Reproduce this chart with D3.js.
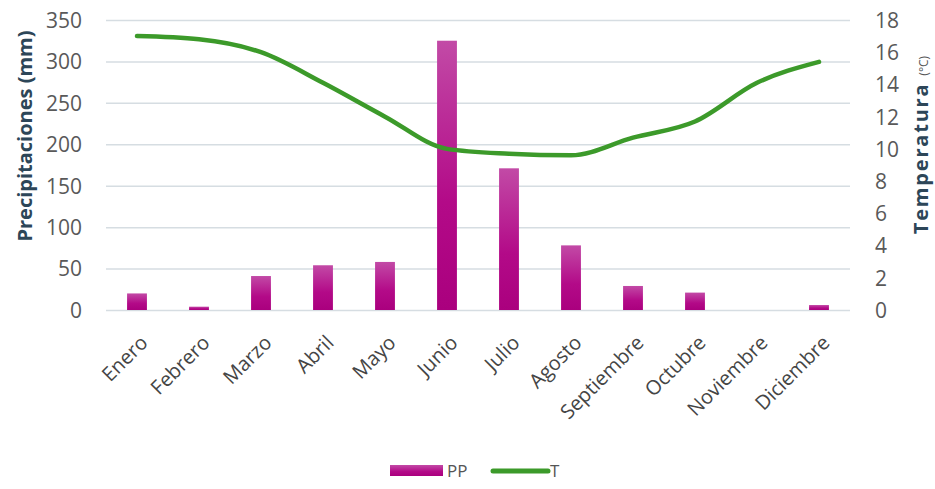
<!DOCTYPE html>
<html lang="es">
<head>
<meta charset="UTF-8">
<title>Climograma</title>
<style>
  body { margin: 0; background: #fff; }
  text { font-family: "Open Sans", "Liberation Sans", sans-serif; }
</style>
</head>
<body>
<svg id="chart" width="935" height="489"></svg>
<script src="https://cdnjs.cloudflare.com/ajax/libs/d3/7.8.5/d3.min.js"></script>
<script>
// data
const months = ['Enero','Febrero','Marzo','Abril','Mayo','Junio','Julio','Agosto','Septiembre','Octubre','Noviembre','Diciembre'];
const precip = [20, 4, 41, 54, 58, 325, 171, 78, 29, 21, 0, 6];
const temp = [17.0, 16.8, 16.0, 14.1, 12.0, 10.0, 9.7, 9.6, 10.7, 11.7, 14.1, 15.4];
const ppTicks = [0, 50, 100, 150, 200, 250, 300, 350];
const tTicks = [0, 2, 4, 6, 8, 10, 12, 14, 16, 18];

const svg = d3.select('#chart');
const plotL = 106, plotR = 850, plotT = 20, plotB = 310;

const x = d3.scaleBand().domain(months).range([plotL, plotR]).paddingInner(0.68).paddingOuter(0.34);
const yPP = d3.scaleLinear().domain([0, 350]).range([plotB, plotT]);
const yT = d3.scaleLinear().domain([0, 18]).range([plotB, plotT]);

// gradient for bars
const grad = svg.append('defs').append('linearGradient')
    .attr('id', 'barGrad').attr('x1', 0).attr('y1', 0).attr('x2', 0).attr('y2', 1);
grad.append('stop').attr('offset', '0%').attr('stop-color', '#c24aa6');
grad.append('stop').attr('offset', '60%').attr('stop-color', '#b30a88');
grad.append('stop').attr('offset', '100%').attr('stop-color', '#aa007e');

// gridlines
svg.append('g')
  .attr('transform', `translate(${plotL},0)`)
  .call(d3.axisLeft(yPP).tickValues(ppTicks).tickSize(-(plotR - plotL)).tickFormat(''))
  .call(g => g.select('.domain').remove())
  .call(g => g.selectAll('line').attr('stroke', '#d6dde2').attr('stroke-width', 1.5));

// left axis labels
svg.append('g')
  .attr('transform', `translate(${plotL - 24},0)`)
  .call(d3.axisLeft(yPP).tickValues(ppTicks).tickSize(0).tickPadding(0))
  .call(g => g.select('.domain').remove())
  .call(g => g.selectAll('text').attr('fill', '#595959').style('font-size', '21px').attr('dy', '0.35em'));

// right axis labels
svg.append('g')
  .attr('transform', `translate(${plotR + 25},0)`)
  .call(d3.axisRight(yT).tickValues(tTicks).tickSize(0).tickPadding(0))
  .call(g => g.select('.domain').remove())
  .call(g => g.selectAll('text').attr('fill', '#595959').style('font-size', '21px').attr('dy', '0.35em'));

// x axis labels
svg.append('g')
  .attr('transform', `translate(0,${plotB})`)
  .call(d3.axisBottom(x).tickSize(0).tickPadding(0))
  .call(g => g.select('.domain').remove())
  .call(g => g.selectAll('text')
      .attr('fill', '#454545')
      .style('font-size', '20px')
      .attr('text-anchor', 'end')
      .attr('dy', 0)
      .attr('transform', 'translate(12,34) rotate(-45)'));

// bars
svg.append('g').selectAll('rect')
  .data(precip)
  .join('rect')
    .attr('x', (d, i) => x(months[i]))
    .attr('width', x.bandwidth())
    .attr('y', d => yPP(d))
    .attr('height', d => plotB - yPP(d))
    .attr('fill', 'url(#barGrad)');

// temperature line
const line = d3.line()
  .x((d, i) => x(months[i]) + x.bandwidth() / 2)
  .y(d => yT(d))
  .curve(d3.curveMonotoneX);

svg.append('path')
  .datum(temp)
  .attr('d', line)
  .attr('fill', 'none')
  .attr('stroke', '#3c9a2a')
  .attr('stroke-width', 4.5)
  .attr('stroke-linecap', 'round')
  .attr('stroke-linejoin', 'round');

// axis titles
svg.append('text')
  .attr('transform', 'translate(32,136) rotate(-90)')
  .attr('text-anchor', 'middle')
  .attr('fill', '#2d4658')
  .style('font-size', '20px')
  .style('font-weight', 'bold')
  .text('Precipitaciones (mm)');

const tTitle = svg.append('text')
  .attr('transform', 'translate(928,145) rotate(-90)')
  .attr('text-anchor', 'middle')
  .attr('fill', '#2d4658')
  .style('font-weight', 'bold');
tTitle.append('tspan').style('font-size', '20px').style('letter-spacing', '1.8px').text('Temperatura ');
tTitle.append('tspan').style('font-size', '12px').style('font-weight', 'normal').attr('fill', '#555').text('(°C)');

// legend
const lg = svg.append('g');
lg.append('rect').attr('x', 390).attr('y', 465).attr('width', 53).attr('height', 11).attr('fill', 'url(#barGrad)');
lg.append('text').attr('x', 447).attr('y', 477).attr('fill', '#555').style('font-size', '17px').text('PP');
lg.append('line').attr('x1', 493).attr('x2', 548).attr('y1', 471).attr('y2', 471)
  .attr('stroke', '#3c9a2a').attr('stroke-width', 5).attr('stroke-linecap', 'round');
lg.append('text').attr('x', 550).attr('y', 477).attr('fill', '#555').style('font-size', '17px').text('T');
</script>
</body>
</html>
